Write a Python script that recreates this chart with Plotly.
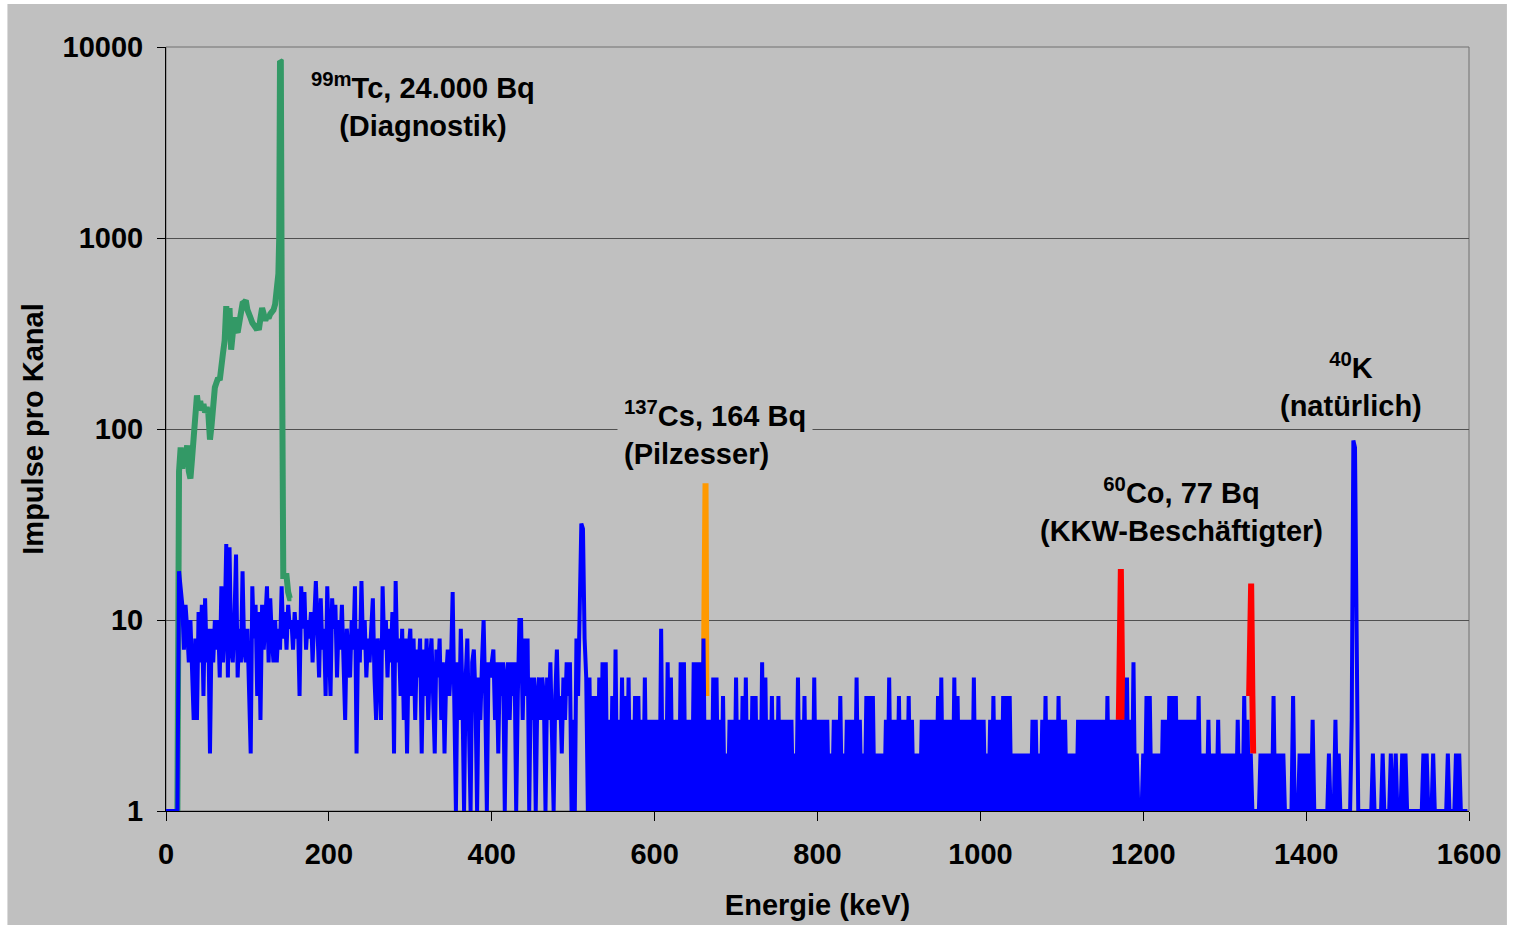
import math
import plotly.graph_objects as go

# ---------------- data ----------------
# Background spectrum (blue), 2 keV channels, counts per channel, 100 keV per list
blue_seg_0000 = [1, 1, 1, 1, 1, 1, 1, 1, 18, 14,
                 12, 7, 12, 9, 6, 10, 5, 3, 8, 3,
                 11, 6, 12, 4, 13, 6, 9, 2, 9, 6,
                 10, 7, 10, 5, 15, 6, 9, 25, 5, 24,
                 7, 6, 10, 22, 5, 9, 6, 18, 7, 6]
blue_seg_0100 = [9, 4, 2, 15, 8, 12, 4, 11, 3, 12,
                 7, 10, 15, 6, 13, 8, 6, 10, 6, 9,
                 7, 15, 8, 11, 7, 12, 9, 10, 7, 11,
                 8, 10, 4, 15, 9, 14, 7, 10, 8, 11,
                 6, 10, 16, 9, 5, 13, 7, 9, 4, 15]
blue_seg_0200 = [8, 4, 13, 9, 12, 5, 10, 7, 12, 6,
                 3, 9, 6, 5, 10, 7, 15, 2, 9, 6,
                 16, 7, 10, 5, 8, 6, 9, 13, 5, 3,
                 8, 6, 3, 15, 7, 10, 5, 9, 6, 11,
                 2, 16, 6, 8, 4, 9, 3, 8, 2, 7]
blue_seg_0300 = [9, 4, 8, 3, 7, 5, 8, 2, 7, 4,
                 8, 3, 6, 8, 4, 2, 7, 5, 8, 3,
                 6, 2, 5, 7, 4, 6, 14, 5, 1, 6,
                 3, 9, 4, 1, 5, 8, 3, 1, 6, 7,
                 4, 1, 5, 3, 6, 10, 4, 1, 6, 5]
blue_seg_0400 = [6, 7, 3, 6, 2, 6, 4, 6, 1, 5,
                 6, 3, 6, 4, 6, 1, 4, 10, 10, 3,
                 8, 4, 8, 1, 5, 3, 5, 1, 4, 5,
                 3, 5, 4, 1, 5, 3, 6, 2, 1, 4,
                 7, 3, 4, 2, 5, 3, 6, 4, 6, 1]
blue_seg_0500 = [3, 1, 8, 4, 10, 32, 30, 8, 5, 1,
                 5, 1, 4, 1, 4, 1, 5, 1, 6, 1,
                 6, 1, 3, 1, 4, 1, 7, 1, 3, 1,
                 5, 1, 4, 1, 5, 1, 3, 1, 4, 1,
                 4, 1, 3, 1, 5, 1, 3, 1, 3, 1]
blue_seg_0600 = [3, 1, 3, 1, 9, 1, 3, 1, 6, 1,
                 5, 1, 3, 1, 3, 1, 6, 1, 6, 1,
                 3, 1, 3, 1, 6, 1, 6, 1, 6, 1,
                 8, 1, 3, 1, 3, 1, 5, 1, 5, 1,
                 3, 1, 4, 1, 2, 1, 3, 1, 3, 1]
blue_seg_0700 = [5, 1, 3, 1, 4, 1, 5, 1, 3, 1,
                 4, 1, 4, 1, 3, 1, 6, 1, 5, 1,
                 3, 1, 4, 1, 3, 1, 4, 1, 3, 1,
                 3, 1, 3, 1, 3, 1, 2, 1, 5, 1,
                 3, 1, 4, 1, 3, 1, 3, 1, 5, 1]
blue_seg_0800 = [3, 1, 3, 1, 3, 1, 3, 1, 2, 1,
                 3, 1, 3, 1, 4, 1, 2, 1, 3, 1,
                 3, 1, 3, 1, 5, 1, 3, 1, 2, 1,
                 4, 1, 4, 1, 4, 1, 2, 1, 2, 1,
                 2, 1, 3, 1, 5, 1, 3, 1, 3, 1]
blue_seg_0900 = [4, 1, 3, 1, 3, 1, 4, 1, 3, 1,
                 2, 1, 2, 1, 3, 1, 3, 1, 3, 1,
                 3, 1, 3, 1, 4, 1, 5, 1, 3, 1,
                 3, 1, 3, 1, 5, 1, 4, 1, 3, 1,
                 3, 1, 3, 1, 3, 1, 5, 1, 3, 1]
blue_seg_1000 = [3, 1, 3, 1, 2, 1, 3, 1, 4, 1,
                 3, 1, 3, 1, 4, 1, 4, 1, 4, 1,
                 2, 1, 2, 1, 2, 1, 2, 1, 2, 1,
                 2, 1, 3, 1, 3, 1, 2, 1, 3, 1,
                 4, 1, 3, 1, 3, 1, 3, 1, 4, 1]
blue_seg_1100 = [3, 1, 3, 1, 2, 1, 2, 1, 2, 1,
                 3, 1, 3, 1, 3, 1, 3, 1, 3, 1,
                 3, 1, 3, 1, 3, 1, 3, 1, 4, 1,
                 3, 1, 3, 1, 3, 1, 3, 1, 3, 1,
                 5, 1, 3, 1, 6, 1, 2, 1, 1, 1]
blue_seg_1200 = [2, 1, 4, 1, 4, 1, 2, 1, 2, 1,
                 2, 1, 3, 1, 3, 1, 4, 1, 4, 1,
                 4, 1, 3, 1, 3, 1, 3, 1, 3, 1,
                 3, 1, 3, 1, 4, 1, 2, 1, 2, 1,
                 3, 1, 2, 1, 2, 1, 3, 1, 2, 1]
blue_seg_1300 = [2, 1, 2, 1, 2, 1, 2, 1, 3, 1,
                 2, 1, 4, 1, 3, 1, 2, 1, 1, 1,
                 1, 1, 2, 1, 2, 1, 2, 1, 2, 1,
                 4, 1, 2, 1, 2, 1, 2, 1, 1, 1,
                 1, 1, 4, 1, 1, 1, 2, 1, 2, 1]
blue_seg_1400 = [2, 1, 2, 1, 3, 1, 1, 1, 1, 1,
                 1, 1, 1, 1, 2, 1, 1, 1, 3, 1,
                 2, 1, 1, 1, 1, 1, 1, 1, 3, 87,
                 80, 6, 1, 1, 1, 1, 1, 1, 1, 1,
                 1, 2, 1, 1, 1, 1, 1, 2, 1, 1]
blue_seg_1500 = [1, 1, 2, 1, 1, 2, 1, 1, 1, 2,
                 1, 2, 1, 1, 1, 1, 1, 1, 1, 1,
                 1, 1, 2, 1, 2, 1, 1, 1, 2, 1,
                 1, 1, 1, 1, 1, 1, 1, 2, 1, 1,
                 1, 1, 2, 1, 2, 1, 1, 1, 1, 1]
blue_channel_kev = 2

# 99mTc patient (green)
tc_energy = [12, 14, 16, 18, 20, 22, 24, 26, 28, 30,
             32, 34, 36, 38, 40, 42, 44, 46, 48, 50,
             52, 54, 56, 58, 60, 62, 64, 66, 68, 70,
             72, 74, 76, 78, 80, 82, 84, 86, 88, 90,
             92, 94, 96, 98, 100, 102, 104, 106, 108, 110,
             112, 114, 116, 118, 120, 122, 124, 126, 128, 130,
             132, 134, 136, 138, 139, 140, 141, 142, 143,
             144, 146, 148, 150, 152, 154]
tc_counts = [1, 1, 60, 80, 62, 78, 70, 82, 60, 55,
             70, 95, 120, 150, 128, 140, 125, 135, 122, 130,
             120, 88, 105, 150, 165, 175, 185, 180, 230, 250,
             290, 440, 300, 430, 260, 330, 385, 330, 320, 360,
             410, 455, 460, 470, 420, 385, 380, 360, 350, 340,
             345, 330, 380, 430, 400, 370, 390, 380, 400, 410,
             420, 450, 520, 650, 1000, 8450, 8400, 600, 20,
             17, 17, 17, 14, 13, 13]

# 137Cs (orange)
cs_energy = [660.5, 661.5, 662.5, 663.5]
cs_counts = [5, 52, 52, 4]

# 60Co (red), two lines
co_energy = [1170, 1171.5, 1172.5, 1174, 1175, None, 1330, 1331.5, 1332.5, 1334, 1335]
co_counts = [3, 18.5, 18.5, 5, 3, None, 4, 15.5, 15.5, 4, 2]

x_ticks = [0, 200, 400, 600, 800, 1000, 1200, 1400, 1600]
y_ticks = [1, 10, 100, 1000, 10000]
y_ticktext = ["1", "10", "100", "1000", "10000"]

labels = [
    # text, x (keV), y (counts), xanchor, align, bg
    ("<sup>99m</sup>Tc, 24.000 Bq<br>(Diagnostik)", 315, 4950, "center", "center", False),
    ("<sup>137</sup>Cs, 164 Bq<br>(Pilzesser)", 554, 95, "left", "left", True),
    ("<sup>60</sup>Co, 77 Bq<br>(KKW-Beschäftigter)", 1247, 37.5, "center", "center", False),
    ("<sup>40</sup>K<br>(natürlich)", 1455, 169, "center", "center", False),
]

# ---------------- figure ----------------
blue_counts = (blue_seg_0000 + blue_seg_0100 + blue_seg_0200 + blue_seg_0300 +
               blue_seg_0400 + blue_seg_0500 + blue_seg_0600 + blue_seg_0700 +
               blue_seg_0800 + blue_seg_0900 + blue_seg_1000 + blue_seg_1100 +
               blue_seg_1200 + blue_seg_1300 + blue_seg_1400 + blue_seg_1500)
blue_energy = [i * blue_channel_kev for i in range(len(blue_counts))]

FONT = "Arial, 'Liberation Sans', sans-serif"
GRAY = "#C0C0C0"
BOLD = dict(family=FONT, size=29, color="black", weight="bold")

fig = go.Figure()
fig.add_trace(go.Scatter(x=tc_energy, y=tc_counts, mode="lines",
                         line=dict(color="#339966", width=6), hoverinfo="skip"))
fig.add_trace(go.Scatter(x=cs_energy, y=cs_counts, mode="lines",
                         line=dict(color="#FF9900", width=6), hoverinfo="skip"))
fig.add_trace(go.Scatter(x=co_energy, y=co_counts, mode="lines", connectgaps=False,
                         line=dict(color="#FF0000", width=6), hoverinfo="skip"))
fig.add_trace(go.Scatter(x=blue_energy, y=blue_counts, mode="lines",
                         line=dict(color="#0000FF", width=4), hoverinfo="skip"))

for text, x, y, xa, al, bg in labels:
    fig.add_annotation(text=text, x=x, y=math.log10(y), xref="x", yref="y",
                       xanchor=xa, yanchor="middle", align=al, showarrow=False,
                       font=BOLD, bgcolor=GRAY if bg else None, borderpad=6)

# gray chart area with thin white border, and plot-area frame
fig.add_shape(type="rect", xref="paper", yref="paper",
              x0=-0.1217, x1=1.0291, y0=-0.1492, y1=1.0563,
              fillcolor=GRAY, line=dict(width=0), layer="below")
fig.add_shape(type="rect", xref="paper", yref="paper", x0=0, x1=1, y0=0, y1=1,
              line=dict(color="#707070", width=1), layer="below")

fig.update_layout(
    width=1513, height=928,
    margin=dict(l=166, r=41, t=47, b=117),
    paper_bgcolor="white", plot_bgcolor=GRAY,
    showlegend=False,
    font=BOLD,
)
fig.update_xaxes(range=[0, 1600], tickvals=x_ticks, ticks="outside", ticklen=9,
                 tickcolor="black", showline=True, linecolor="black", linewidth=1,
                 showgrid=False, zeroline=False, tickfont=BOLD,
                 ticklabelstandoff=8,
                 title=dict(text="Energie (keV)", standoff=25, font=BOLD))
fig.update_yaxes(type="log", range=[0, 4], tickvals=y_ticks, ticktext=y_ticktext,
                 ticks="outside", ticklen=8, tickcolor="black",
                 showline=True, linecolor="black", linewidth=1,
                 showgrid=True, gridcolor="#505050", gridwidth=1, zeroline=False,
                 tickfont=BOLD, ticklabelstandoff=8,
                 title=dict(text="Impulse pro Kanal", standoff=10, font=BOLD))

fig.write_html("out.html", config={"displayModeBar": False},
               post_script="document.body.style.margin='0';document.body.style.overflow='hidden';")
